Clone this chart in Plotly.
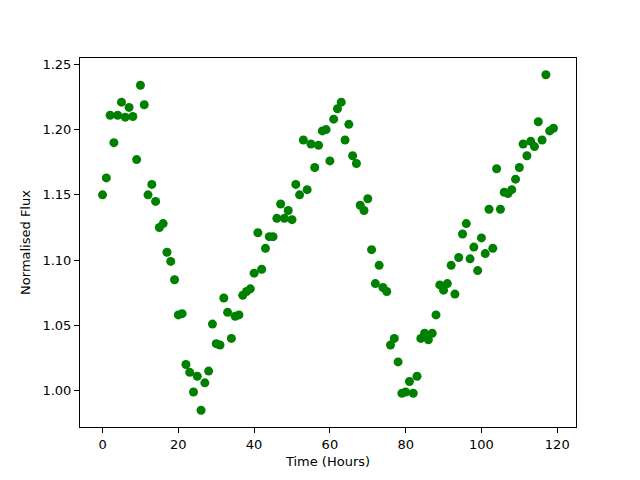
import plotly.graph_objects as go

hours = list(range(120))
flux = [
    1.150, 1.163, 1.211, 1.190, 1.211, 1.221, 1.2095, 1.217, 1.210, 1.177,
    1.234, 1.219, 1.150, 1.158, 1.145, 1.125, 1.128, 1.106, 1.099, 1.085,
    1.058, 1.059, 1.020, 1.014, 0.999, 1.011, 0.985, 1.006, 1.015, 1.051,
    1.036, 1.035, 1.071, 1.060, 1.040, 1.057, 1.058, 1.073, 1.076, 1.078,
    1.090, 1.121, 1.093, 1.109, 1.118, 1.118, 1.132, 1.143, 1.132, 1.138,
    1.131, 1.158, 1.150, 1.192, 1.154, 1.189, 1.171, 1.188, 1.199, 1.200,
    1.176, 1.208, 1.216, 1.221, 1.192, 1.204, 1.180, 1.174, 1.142, 1.138,
    1.147, 1.108, 1.082, 1.096, 1.079, 1.076, 1.035, 1.040, 1.022, 0.998,
    0.999, 1.007, 0.998, 1.011, 1.040, 1.044, 1.039, 1.044, 1.058, 1.081,
    1.077, 1.082, 1.096, 1.074, 1.102, 1.120, 1.128, 1.101, 1.110, 1.092,
    1.117, 1.105, 1.139, 1.109, 1.170, 1.139, 1.152, 1.151, 1.154, 1.162,
    1.171, 1.189, 1.180, 1.191, 1.187, 1.206, 1.192, 1.242, 1.199, 1.201,
]
x_ticks = [0, 20, 40, 60, 80, 100, 120]
y_ticks = [1.00, 1.05, 1.10, 1.15, 1.20, 1.25]

fig = go.Figure(go.Scatter(
    x=hours, y=flux, mode="markers",
    marker=dict(color="#008000", size=9, line=dict(width=0)),
))

xr = max(hours) - min(hours)
yr = max(flux) - min(flux)
axis_common = dict(
    showgrid=False, zeroline=False, showline=True, mirror=True,
    linecolor="black", linewidth=1, ticks="outside", ticklen=5,
    tickcolor="black", tickfont=dict(size=13, color="black"),
    automargin=False,
)
fig.update_layout(
    width=632, height=472,
    margin=dict(l=72, r=64, t=50, b=53),
    paper_bgcolor="white", plot_bgcolor="white",
    font=dict(family="DejaVu Sans", size=13, color="black"),
    showlegend=False,
    xaxis=dict(
        range=[min(hours) - 0.05 * xr, max(hours) + 0.05 * xr],
        tickvals=x_ticks,
        title=dict(text="Time (Hours)", standoff=6, font=dict(size=13)),
        **axis_common,
    ),
    yaxis=dict(
        range=[min(flux) - 0.05 * yr, max(flux) + 0.05 * yr],
        tickvals=y_ticks, tickformat=".2f",
        title=dict(text="Normalised Flux", standoff=8, font=dict(size=13)),
        **axis_common,
    ),
)
fig.write_html("out.html")
